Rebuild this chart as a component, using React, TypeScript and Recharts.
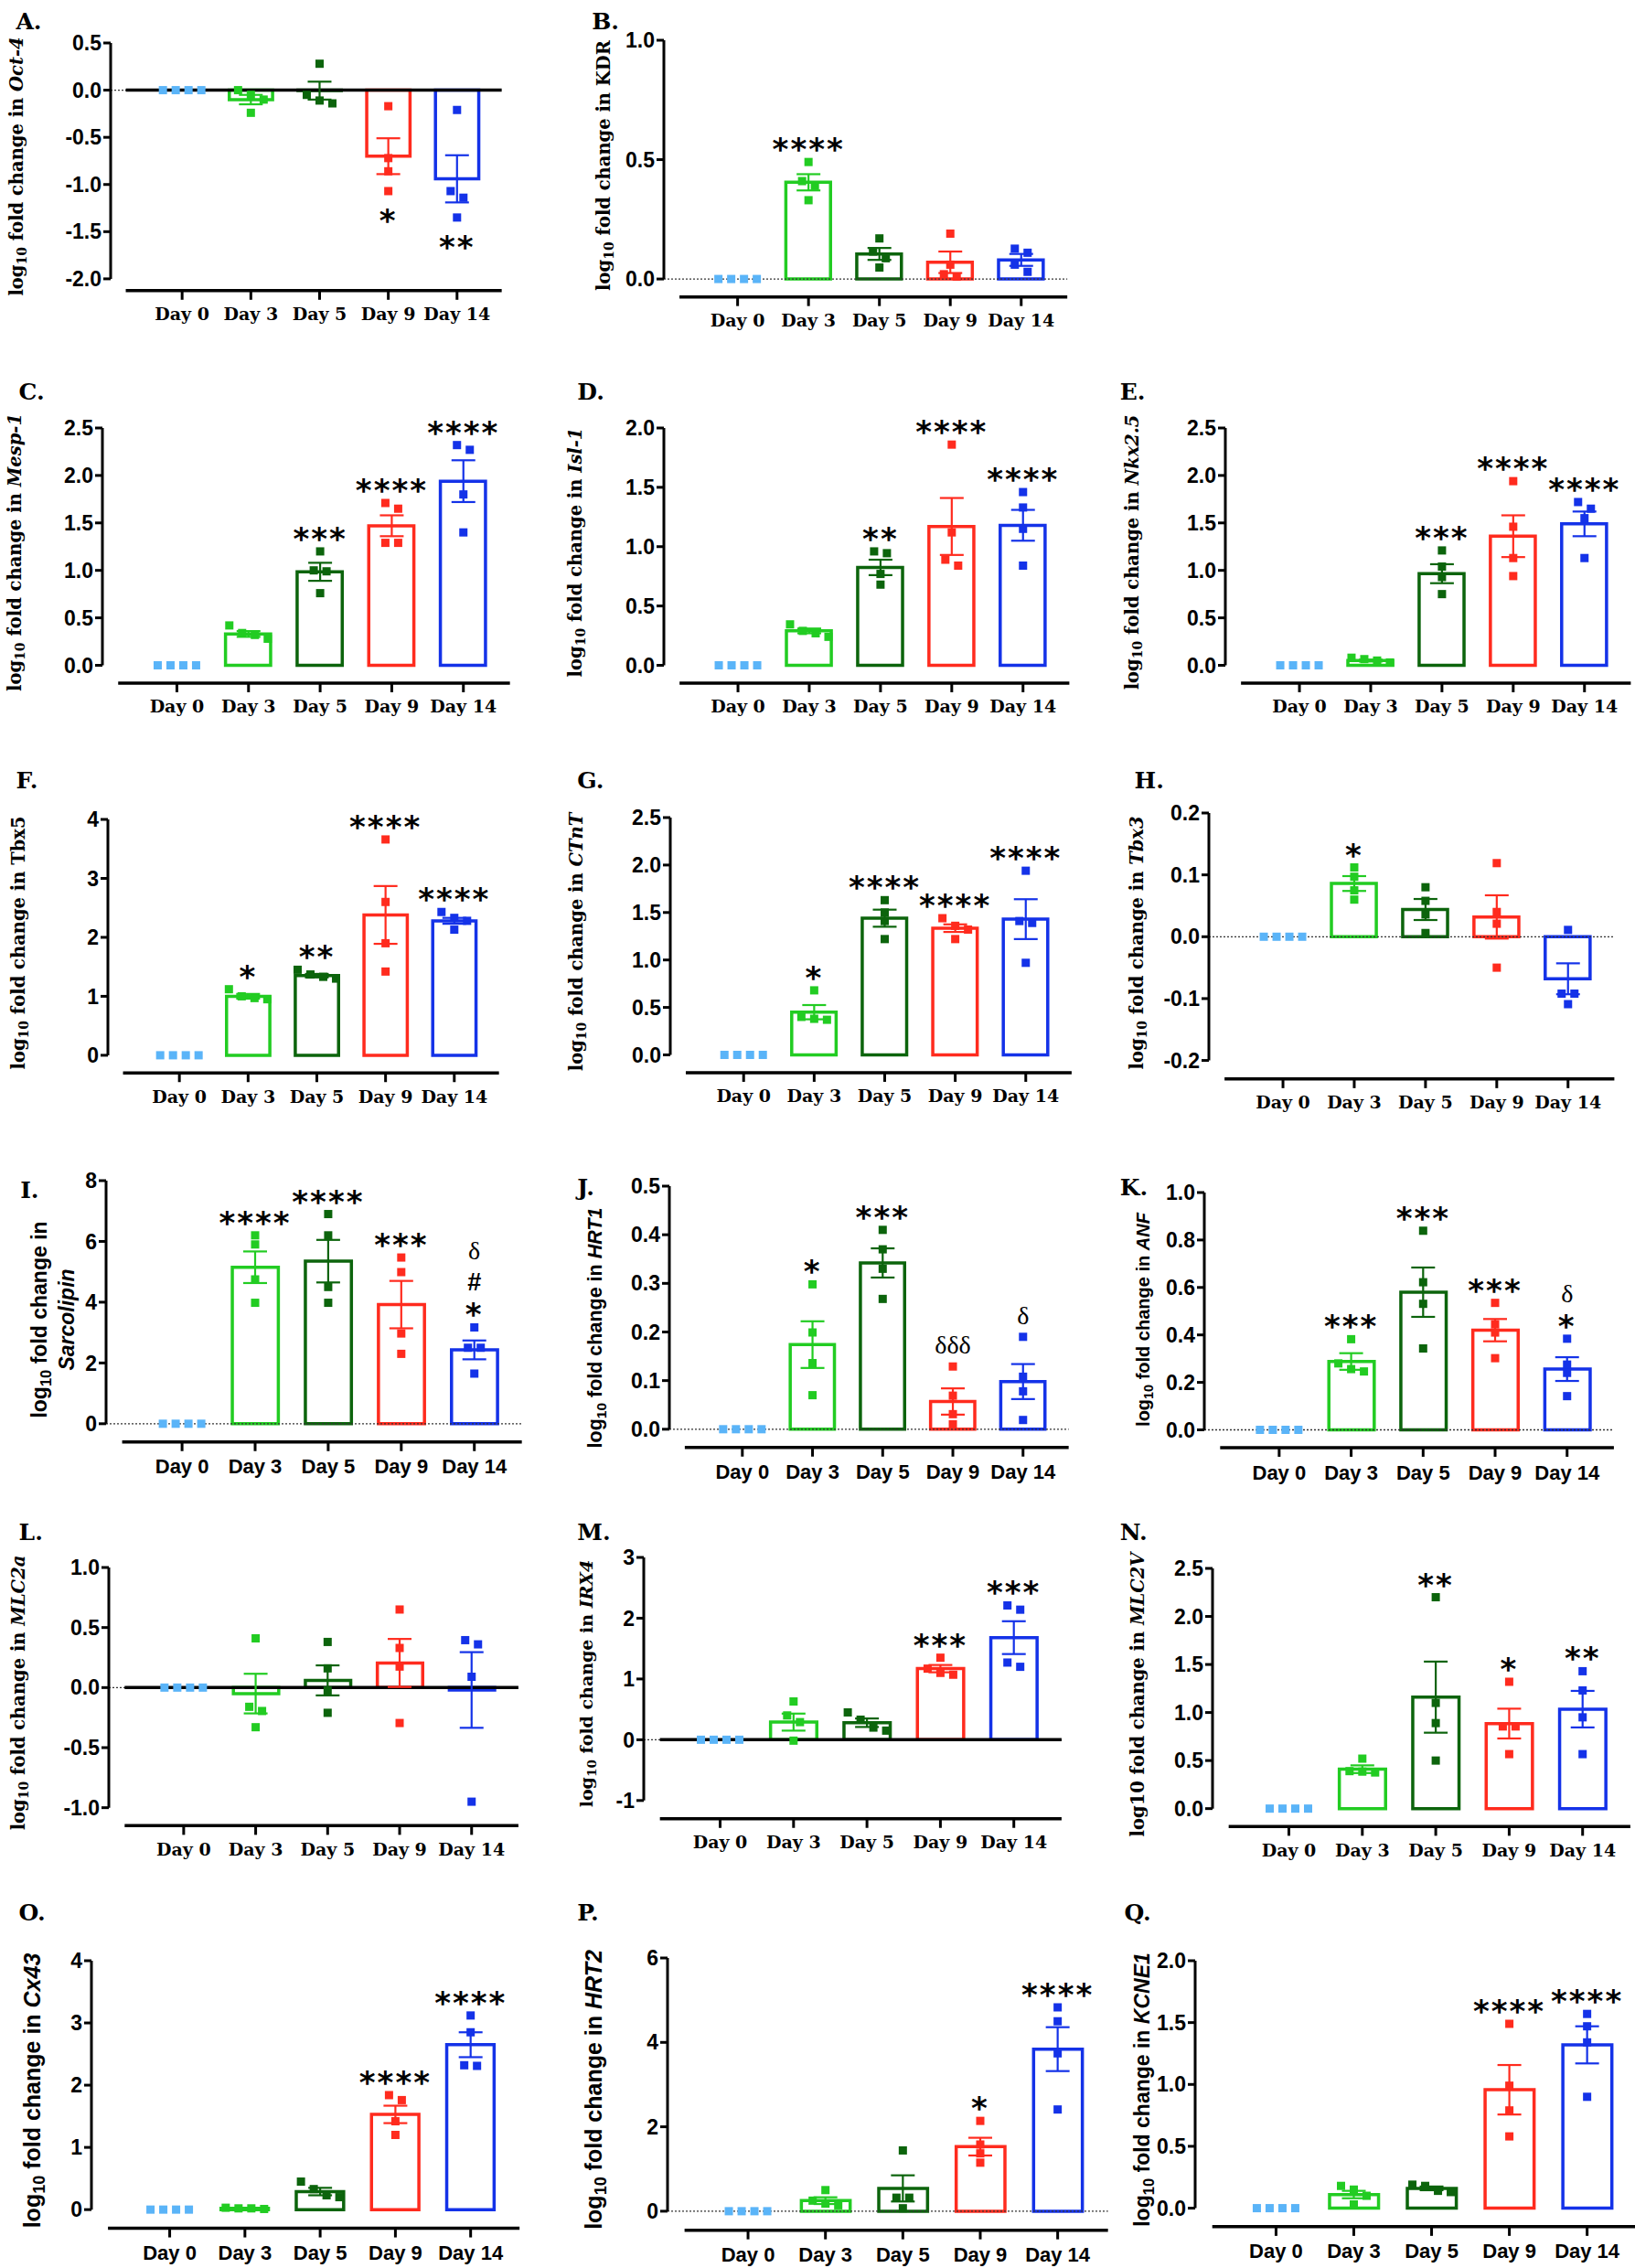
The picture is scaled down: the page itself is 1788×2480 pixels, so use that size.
import React from 'react';
import { ComposedChart, Bar, Cell, XAxis, YAxis, Scatter, ErrorBar, ReferenceLine } from 'recharts';

const S = 1788 / 1130;
const days = ['Day 0', 'Day 3', 'Day 5', 'Day 9', 'Day 14'];
const dayColors = ['#5ab4f8', '#22cc22', '#0c640c', '#ff2b1e', '#1432e8'];
const z4 = [0, 0, 0, 0];

// tick sets
const tA = [-2, -1.5, -1, -0.5, 0, 0.5];
const tB = [0, 0.5, 1];
const t25 = [0, 0.5, 1, 1.5, 2, 2.5];
const t20 = [0, 0.5, 1, 1.5, 2];
const t4 = [0, 1, 2, 3, 4];
const tH = [-0.2, -0.1, 0, 0.1, 0.2];
const t8 = [0, 2, 4, 6, 8];
const t05 = [0, 0.1, 0.2, 0.3, 0.4, 0.5];
const t10 = [0, 0.2, 0.4, 0.6, 0.8, 1];
const tL = [-1, -0.5, 0, 0.5, 1];
const tM = [-1, 0, 1, 2, 3];
const t6 = [0, 2, 4, 6];

// A. Oct-4
const oct4Mean = [0, -0.1, -0.005, -0.7, -0.94];
const oct4Sem = [0, 0.05, 0.095, 0.19, 0.25];
const oct4Pts = [z4, [0, -0.05, -0.1, -0.24], [0.28, -0.05, -0.14, -0.11], [-0.17, -0.72, -0.86, -1.07], [-0.21, -1.07, -1.14, -1.35]];
const oct4Sig = ['', '', '', '*', '**'];
// B. KDR
const kdrMean = [0, 0.405, 0.105, 0.07, 0.08];
const kdrSem = [0, 0.034, 0.025, 0.045, 0.025];
const kdrPts = [z4, [0.49, 0.41, 0.39, 0.33], [0.17, 0.115, 0.087, 0.048], [0.19, 0.06, 0.02, 0.01], [0.127, 0.11, 0.06, 0.03]];
const kdrSig = ['', '****', '', '', ''];
// C. Mesp-1
const mespMean = [0, 0.33, 0.985, 1.47, 1.94];
const mespSem = [0, 0.03, 0.095, 0.11, 0.22];
const mespPts = [z4, [0.42, 0.34, 0.32, 0.28], [1.2, 1.0, 0.99, 0.76], [1.71, 1.65, 1.29, 1.29], [2.32, 2.27, 1.8, 1.4]];
const mespSig = ['', '', '***', '****', '****'];
// D. Isl-1
const islMean = [0, 0.29, 0.825, 1.17, 1.18];
const islSem = [0, 0.02, 0.065, 0.24, 0.13];
const islPts = [z4, [0.345, 0.29, 0.27, 0.24], [0.96, 0.945, 0.77, 0.68], [1.86, 1.12, 0.89, 0.84], [1.46, 1.33, 1.15, 0.84]];
const islSig = ['', '', '**', '****', '****'];
// E. Nkx2.5
const nkxMean = [0, 0.05, 0.965, 1.36, 1.49];
const nkxSem = [0, 0.01, 0.1, 0.22, 0.13];
const nkxPts = [z4, [0.08, 0.065, 0.05, 0.03], [1.21, 1.04, 0.93, 0.75], [1.94, 1.46, 1.13, 0.94], [1.72, 1.65, 1.55, 1.13]];
const nkxSig = ['', '', '***', '****', '****'];
// F. Tbx5
const tbx5Mean = [0, 1.0, 1.35, 2.38, 2.28];
const tbx5Sem = [0, 0.04, 0.03, 0.49, 0.05];
const tbx5Pts = [z4, [1.12, 1.0, 0.97, 0.95], [1.45, 1.37, 1.33, 1.3], [3.66, 2.6, 1.9, 1.42], [2.43, 2.33, 2.28, 2.13]];
const tbx5Sig = ['', '*', '**', '****', '****'];
// G. CTnT
const ctntMean = [0, 0.45, 1.44, 1.335, 1.43];
const ctntSem = [0, 0.075, 0.09, 0.04, 0.21];
const ctntPts = [z4, [0.68, 0.4, 0.38, 0.37], [1.63, 1.5, 1.41, 1.22], [1.44, 1.36, 1.32, 1.22], [1.94, 1.41, 1.39, 0.97]];
const ctntSig = ['', '*', '****', '****', '****'];
// H. Tbx3
const tbx3Mean = [0, 0.086, 0.044, 0.032, -0.068];
const tbx3Sem = [0, 0.012, 0.017, 0.035, 0.025];
const tbx3Pts = [z4, [0.112, 0.097, 0.075, 0.06], [0.08, 0.058, 0.036, 0.006], [0.119, 0.04, 0.021, -0.05], [0.011, -0.092, -0.092, -0.109]];
const tbx3Sig = ['', '*', '', '', ''];
// I. Sarcolipin
const slnMean = [0, 5.15, 5.35, 3.92, 2.43];
const slnSem = [0, 0.52, 0.7, 0.78, 0.31];
const slnPts = [z4, [6.2, 5.9, 4.75, 3.98], [6.9, 6.2, 4.5, 3.98], [5.47, 4.99, 2.97, 2.3], [3.17, 2.5, 2.5, 1.65]];
const slnSig = ['', '****', '****', '***', 'δ|#|*'];
// J. HRT1
const hrt1Mean = [0, 0.174, 0.342, 0.057, 0.098];
const hrt1Sem = [0, 0.048, 0.03, 0.027, 0.036];
const hrt1Pts = [z4, [0.298, 0.199, 0.136, 0.07], [0.41, 0.37, 0.33, 0.268], [0.129, 0.069, 0.031, 0.01], [0.19, 0.108, 0.078, 0.019]];
const hrt1Sig = ['', '*', '***', 'δδδ', 'δ'];
// K. ANF
const anfMean = [0, 0.288, 0.58, 0.42, 0.256];
const anfSem = [0, 0.035, 0.104, 0.047, 0.05];
const anfPts = [z4, [0.382, 0.28, 0.256, 0.246], [0.839, 0.622, 0.531, 0.343], [0.535, 0.445, 0.41, 0.302], [0.384, 0.275, 0.24, 0.142]];
const anfSig = ['', '***', '***', '***', 'δ|*'];
// L. MLC2a
const mlc2aMean = [0, -0.05, 0.06, 0.205, -0.02];
const mlc2aSem = [0, 0.165, 0.125, 0.2, 0.315];
const mlc2aPts = [z4, [0.41, -0.16, -0.195, -0.33], [0.38, 0.16, -0.025, -0.21], [0.65, 0.33, 0.175, -0.295], [0.395, 0.36, 0.09, -0.95]];
const mlc2aSig = ['', '', '', '', ''];
// M. IRX4
const irx4Mean = [0, 0.29, 0.28, 1.17, 1.68];
const irx4Sem = [0, 0.14, 0.07, 0.06, 0.27];
const irx4Pts = [z4, [0.63, 0.4, 0.29, -0.015], [0.45, 0.33, 0.2, 0.15], [1.35, 1.17, 1.1, 1.07], [2.21, 2.14, 1.27, 1.2]];
const irx4Sig = ['', '', '', '***', '***'];
// N. MLC2V
const mlc2vMean = [0, 0.41, 1.16, 0.885, 1.035];
const mlc2vSem = [0, 0.04, 0.37, 0.155, 0.19];
const mlc2vPts = [z4, [0.52, 0.39, 0.385, 0.376], [2.2, 1.1, 0.89, 0.5], [1.32, 0.855, 0.855, 0.567], [1.43, 1.23, 0.95, 0.567]];
const mlc2vSig = ['', '', '**', '*', '**'];
// O. Cx43
const cx43Mean = [0, 0.02, 0.29, 1.53, 2.65];
const cx43Sem = [0, 0.01, 0.06, 0.14, 0.2];
const cx43Pts = [z4, [0.03, 0.02, 0.02, 0.01], [0.45, 0.33, 0.23, 0.2], [1.84, 1.76, 1.42, 1.2], [3.12, 2.85, 2.32, 2.31]];
const cx43Sig = ['', '', '', '****', '****'];
// P. HRT2
const hrt2Mean = [0, 0.25, 0.54, 1.53, 3.84];
const hrt2Sem = [0, 0.08, 0.31, 0.21, 0.52];
const hrt2Pts = [z4, [0.5, 0.25, 0.18, 0.14], [1.44, 0.32, 0.32, 0.07], [2.14, 1.58, 1.37, 1.15], [4.83, 4.5, 3.74, 2.41]];
const hrt2Sig = ['', '', '', '*', '****'];
// Q. KCNE1
const kcneMean = [0, 0.11, 0.16, 0.957, 1.32];
const kcneSem = [0, 0.03, 0.015, 0.2, 0.15];
const kcnePts = [z4, [0.18, 0.15, 0.1, 0.03], [0.19, 0.18, 0.14, 0.13], [1.49, 0.99, 0.79, 0.58], [1.57, 1.47, 1.34, 0.9]];
const kcneSig = ['', '', '', '****', '****'];

const panels = [
  { key: 'A', gene: 'Oct-4', italic: true, mean: oct4Mean, sem: oct4Sem, pts: oct4Pts, sig: oct4Sig, domain: [-2, 0.5], ticks: tA, dec: 1, font: 'serif', zero: 'solid', below: true, d0: 126, d4: 316, top: 30, bot: 193, gap: 0.05, lx: 11, ly: 20, labX: 12, lfs: 19.5 },
  { key: 'B', gene: 'KDR', italic: false, mean: kdrMean, sem: kdrSem, pts: kdrPts, sig: kdrSig, domain: [0, 1], ticks: tB, dec: 1, font: 'serif', zero: 'dot', d0: 510, d4: 706, top: 28, bot: 193, lx: 409, ly: 20, labX: 418, lfs: 19.5 },
  { key: 'C', gene: 'Mesp-1', italic: true, mean: mespMean, sem: mespSem, pts: mespPts, sig: mespSig, domain: [0, 2.5], ticks: t25, dec: 1, font: 'serif', zero: 'none', d0: 122, d4: 320, top: 296, bot: 460, lx: 13, ly: 276, labX: 11, lfs: 19.5 },
  { key: 'D', gene: 'Isl-1', italic: true, mean: islMean, sem: islSem, pts: islPts, sig: islSig, domain: [0, 2], ticks: t20, dec: 1, font: 'serif', zero: 'none', d0: 510, d4: 707, top: 296, bot: 460, lx: 399, ly: 276, labX: 398, lfs: 19.5 },
  { key: 'E', gene: 'Nkx2.5', italic: true, mean: nkxMean, sem: nkxSem, pts: nkxPts, sig: nkxSig, domain: [0, 2.5], ticks: t25, dec: 1, font: 'serif', zero: 'none', d0: 898, d4: 1095, top: 296, bot: 460, lx: 774, ly: 276, labX: 783, lfs: 19.5 },
  { key: 'F', gene: 'Tbx5', italic: false, mean: tbx5Mean, sem: tbx5Sem, pts: tbx5Pts, sig: tbx5Sig, domain: [0, 4], ticks: t4, dec: 0, font: 'serif', zero: 'none', d0: 124, d4: 314, top: 566, bot: 729, lx: 11, ly: 545, labX: 13, lfs: 19.5 },
  { key: 'G', gene: 'CTnT', italic: true, mean: ctntMean, sem: ctntSem, pts: ctntPts, sig: ctntSig, domain: [0, 2.5], ticks: t25, dec: 1, font: 'serif', zero: 'none', d0: 514, d4: 709, top: 565, bot: 729, lx: 399, ly: 545, labX: 399, lfs: 19.5 },
  { key: 'H', gene: 'Tbx3', italic: true, mean: tbx3Mean, sem: tbx3Sem, pts: tbx3Pts, sig: tbx3Sig, domain: [-0.2, 0.2], ticks: tH, dec: 1, font: 'serif', zero: 'dot', d0: 887, d4: 1084, top: 562, bot: 733, lx: 784, ly: 545, labX: 786, lfs: 19.5 },
  { key: 'I', gene: 'Sarcolipin', italic: true, twoLine: true, mean: slnMean, sem: slnSem, pts: slnPts, sig: slnSig, domain: [0, 8], ticks: t8, dec: 0, font: 'sans', zero: 'dot', d0: 126, d4: 328, top: 816, bot: 984, lx: 14, ly: 828, labX: 37, labDy: 8, lfs: 23 },
  { key: 'J', gene: 'HRT1', italic: true, mean: hrt1Mean, sem: hrt1Sem, pts: hrt1Pts, sig: hrt1Sig, domain: [0, 0.5], ticks: t05, dec: 1, font: 'sans', zero: 'dot', d0: 513, d4: 707, top: 820, bot: 988, lx: 399, ly: 826, labX: 412, labDy: 10, lfs: 21.5 },
  { key: 'K', gene: 'ANF', italic: true, mean: anfMean, sem: anfSem, pts: anfPts, sig: anfSig, domain: [0, 1], ticks: t10, dec: 1, font: 'sans', zero: 'dot', d0: 884, d4: 1083, top: 824, bot: 988, lx: 774, ly: 826, labX: 790, labDy: 2, lfs: 20 },
  { key: 'L', gene: 'MLC2a', italic: true, mean: mlc2aMean, sem: mlc2aSem, pts: mlc2aPts, sig: mlc2aSig, domain: [-1, 1], ticks: tL, dec: 1, font: 'serif', zero: 'solid', d0: 127, d4: 326, top: 1083, bot: 1249, lx: 13, ly: 1064, labX: 13, lfs: 19.5 },
  { key: 'M', gene: 'IRX4', italic: true, mean: irx4Mean, sem: irx4Sem, pts: irx4Pts, sig: irx4Sig, domain: [-1, 3], ticks: tM, dec: 0, font: 'serif', zero: 'solid', d0: 498, d4: 701, top: 1076, bot: 1244, lx: 399, ly: 1064, labX: 405, lfs: 19 },
  { key: 'N', gene: 'MLC2V', italic: true, plainLog: true, mean: mlc2vMean, sem: mlc2vSem, pts: mlc2vPts, sig: mlc2vSig, domain: [0, 2.5], ticks: t25, dec: 1, font: 'serif', zero: 'none', d0: 891, d4: 1094, top: 1084, bot: 1250, lx: 774, ly: 1064, labX: 787, lfs: 19.5 },
  { key: 'O', gene: 'Cx43', italic: true, mean: cx43Mean, sem: cx43Sem, pts: cx43Pts, sig: cx43Sig, domain: [0, 4], ticks: t4, dec: 0, font: 'sans', zero: 'none', d0: 117, d4: 325, top: 1355, bot: 1527, lx: 13, ly: 1327, labX: 22, lfs: 25 },
  { key: 'P', gene: 'HRT2', italic: true, mean: hrt2Mean, sem: hrt2Sem, pts: hrt2Pts, sig: hrt2Sig, domain: [0, 6], ticks: t6, dec: 0, font: 'sans', zero: 'dot', d0: 517, d4: 731, top: 1353, bot: 1528, lx: 399, ly: 1327, labX: 410, lfs: 25 },
  { key: 'Q', gene: 'KCNE1', italic: true, mean: kcneMean, sem: kcneSem, pts: kcnePts, sig: kcneSig, domain: [0, 2], ticks: t20, dec: 1, font: 'sans', zero: 'none', d0: 882, d4: 1097, top: 1355, bot: 1526, lx: 777, ly: 1327, labX: 790, lfs: 23 },
];

const SERIF = "'DejaVu Serif', 'Liberation Serif', serif";
const SANS = "'Liberation Sans', Arial, sans-serif";
const STAR = "'DejaVu Sans', 'Liberation Sans', sans-serif";

// spread points that would overlap (like a dot plot)
function swarm(vals: number[], ppu: number, size: number, step: number) {
  const idx = vals.map((v, i) => ({ v, i })).sort((a, b) => b.v - a.v);
  const offs = vals.map(() => 0);
  let group: { v: number; i: number }[] = [];
  const flush = () => {
    group.forEach((g, k) => { offs[g.i] = (k - (group.length - 1) / 2) * step; });
    group = [];
  };
  idx.forEach((g) => {
    if (group.length && (group[group.length - 1].v - g.v) * ppu >= size) flush();
    group.push(g);
  });
  flush();
  return offs;
}

const blank = () => <g />;
const isStars = (ln: string) => /^\*+$/.test(ln);

function Panel({ p }: { p: any }) {
  const D0 = p.d0 * S, D4 = p.d4 * S;
  const BW = (D4 - D0) / 4;
  const AX = D0 - 1.04 * BW;
  const XS = D0 - 0.82 * BW;
  const XE = D4 + 0.65 * BW;
  const TOP = p.top * S, BOT = p.bot * S;
  const XAY = BOT + (p.gap ?? 0.075) * (BOT - TOP);
  const yw = 90, mt = 50, xh = 60, mr = 12;
  const plotW = XE - AX, plotH = XAY - TOP;
  const padL = D0 - BW / 2 - AX, padR = XE - D4 - BW / 2, padB = XAY - BOT;
  const [lo, hi] = p.domain;
  const ppu = (BOT - TOP) / (hi - lo);
  const sq = 9;
  const isSans = p.font === 'sans';

  const rows = days.map((d, i) => ({ day: d, mean: p.mean[i] }));
  const ptData = p.pts.flatMap((arr: number[], i: number) => {
    const offs = swarm(arr, ppu, sq, 14);
    return arr.map((v, k) => ({ x: i + offs[k] / BW, y: v, c: i }));
  });
  const sigData = p.sig
    .map((s: string, i: number) => {
      if (!s) return null;
      const vals = [...p.pts[i], p.mean[i] + p.sem[i], p.mean[i] - p.sem[i]];
      return { x: i, y: p.below ? Math.min(...vals) : Math.max(...vals), s };
    })
    .filter(Boolean);

  const tickFont = { fill: '#000', fontFamily: SANS, fontSize: 23, fontWeight: 700 };
  const dayFont = isSans
    ? { fill: '#000', fontFamily: SANS, fontSize: 22, fontWeight: 700 }
    : { fill: '#000', fontFamily: SERIF, fontSize: 19, fontWeight: 700 };
  const fmt = (v: number) => (p.dec ? v.toFixed(p.dec) : String(v));

  const renderPoint = (props: any) => {
    const { cx, cy, payload } = props;
    if (cx == null || cy == null) return <g />;
    return <rect x={cx - sq / 2} y={cy - sq / 2} width={sq} height={sq} fill={dayColors[payload.c]} />;
  };

  const lineStyle = (ln: string) => {
    if (isStars(ln)) return { fontFamily: STAR, fontSize: 34, fontWeight: 700, letterSpacing: 2 };
    if (ln.includes('#')) return { fontFamily: SANS, fontSize: 27, fontWeight: 700 };
    return { fontFamily: "'Liberation Serif', serif", fontSize: 28, fontWeight: 400 };
  };

  const renderSig = (props: any) => {
    const { cx, cy, payload } = props;
    if (cx == null || cy == null) return <g />;
    const lines: string[] = payload.s.split('|');
    const out: any[] = [];
    if (p.below) {
      lines.forEach((ln, k) => {
        out.push(<text key={k} x={cx} y={cy + 44 + k * 32} textAnchor="middle" fill="#000" {...lineStyle(ln)}>{ln}</text>);
      });
    } else {
      let y = 0;
      let prev = '';
      for (let k = lines.length - 1, j = 0; k >= 0; k--, j++) {
        const ln = lines[k];
        if (j === 0) y = isStars(ln) ? cy - 2 : cy - 14;
        else y -= isStars(prev) ? 38 : 34;
        prev = ln;
        out.push(<text key={k} x={cx} y={y} textAnchor="middle" fill="#000" {...lineStyle(ln)}>{ln}</text>);
      }
    }
    return <g>{out}</g>;
  };

  return (
    <>
      <div style={{ position: 'absolute', left: p.lx * S, top: p.ly * S - 21, fontFamily: SERIF, fontWeight: 700, fontSize: 25, lineHeight: 1 }}>
        {p.key}.
      </div>
      <div
        style={{
          position: 'absolute',
          left: p.labX * S,
          top: (TOP + BOT) / 2 + 6 + (p.labDy ?? 0) * S,
          transform: 'translate(-50%, -50%) rotate(-90deg)',
          whiteSpace: 'nowrap',
          fontFamily: isSans ? SANS : SERIF,
          fontWeight: 700,
          fontSize: p.lfs,
          lineHeight: 1.3,
          textAlign: 'center',
          color: '#000',
        }}
      >
        {p.plainLog ? 'log10' : (
          <>log<span style={{ fontSize: '0.72em', position: 'relative', top: '0.3em' }}>10</span></>
        )}
        {' fold change in'}
        {p.twoLine ? <br /> : ' '}
        <span style={{ fontStyle: p.italic ? 'italic' : 'normal' }}>{p.gene}</span>
      </div>
      <div style={{ position: 'absolute', left: AX - yw, top: TOP - mt }}>
        <ComposedChart width={yw + plotW + mr} height={mt + plotH + xh} data={rows} margin={{ top: mt, right: mr, bottom: 0, left: 0 }}>
          <XAxis
            xAxisId="cat"
            dataKey="day"
            type="category"
            height={xh}
            interval={0}
            padding={{ left: padL, right: padR }}
            axisLine={{ stroke: '#000', strokeWidth: 3.5, strokeDasharray: `0 ${XS - AX} 9999` }}
            tickLine={{ stroke: '#000', strokeWidth: 3 }}
            tickSize={10}
            tickMargin={9}
            tick={dayFont}
          />
          <XAxis xAxisId="num" dataKey="x" type="number" domain={[-0.5, 4.5]} hide padding={{ left: padL, right: padR }} />
          <YAxis
            type="number"
            domain={p.domain}
            ticks={p.ticks}
            interval={0}
            width={yw}
            padding={{ top: 0, bottom: padB }}
            axisLine={{ stroke: '#000', strokeWidth: 3, strokeDasharray: `${plotH - padB} 9999` }}
            tickLine={{ stroke: '#000', strokeWidth: 3 }}
            tickSize={8}
            tickMargin={2}
            tick={tickFont}
            tickFormatter={fmt}
          />
          {p.zero !== 'none' && (
            <ReferenceLine xAxisId="cat" y={0} stroke="#333" strokeWidth={1.3} strokeDasharray="2 2" />
          )}
          {p.zero === 'solid' && (
            <ReferenceLine xAxisId="cat" y={0} stroke="#000" strokeWidth={3.5} strokeDasharray={`0 ${XS - AX} 9999`} />
          )}
          <Bar xAxisId="cat" dataKey="mean" barSize={0.63 * BW} fill="#fff" strokeWidth={3.5} isAnimationActive={false}>
            {days.map((d, i) => (
              <Cell key={d} stroke={dayColors[i]} />
            ))}
          </Bar>
          {days.map((d, i) =>
            p.sem[i] > 0 ? (
              <Scatter key={'e' + d} xAxisId="num" dataKey="y" data={[{ x: i, y: p.mean[i], e: p.sem[i] }]} shape={blank} isAnimationActive={false}>
                <ErrorBar dataKey="e" direction="y" width={13} stroke={dayColors[i]} strokeWidth={2.2} isAnimationActive={false} />
              </Scatter>
            ) : null
          )}
          <Scatter xAxisId="num" dataKey="y" data={ptData} shape={renderPoint} isAnimationActive={false} />
          <Scatter xAxisId="num" dataKey="y" data={sigData} shape={renderSig} isAnimationActive={false} />
        </ComposedChart>
      </div>
    </>
  );
}

export default function App() {
  return (
    <div style={{ position: 'absolute', left: 0, top: 0, width: 1788, height: 2480, background: '#fff', overflow: 'hidden' }}>
      {panels.map((p) => (
        <Panel key={p.key} p={p} />
      ))}
    </div>
  );
}
